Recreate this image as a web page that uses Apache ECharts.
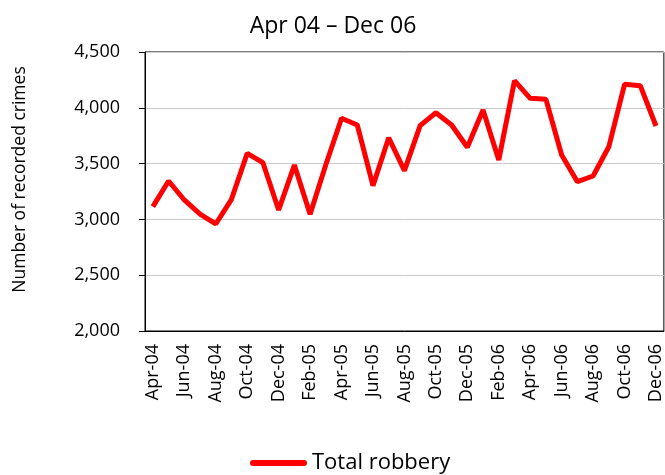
<!DOCTYPE html>
<html>
<head>
<meta charset="utf-8">
<script src="https://cdn.jsdelivr.net/npm/echarts@6/dist/echarts.min.js"></script>
<style>
  html, body { margin: 0; padding: 0; background: #fff; }
  #chart { width: 665px; height: 475px; }
</style>
</head>
<body>
<div id="chart"></div>
<script>
var months = ['Apr-04', 'May-04', 'Jun-04', 'Jul-04', 'Aug-04', 'Sep-04', 'Oct-04', 'Nov-04', 'Dec-04',
    'Jan-05', 'Feb-05', 'Mar-05', 'Apr-05', 'May-05', 'Jun-05', 'Jul-05', 'Aug-05', 'Sep-05', 'Oct-05', 'Nov-05', 'Dec-05',
    'Jan-06', 'Feb-06', 'Mar-06', 'Apr-06', 'May-06', 'Jun-06', 'Jul-06', 'Aug-06', 'Sep-06', 'Oct-06', 'Nov-06', 'Dec-06'];
var robbery = [3114, 3344, 3174, 3048, 2959, 3180, 3592, 3508, 3084,
    3487, 3046, 3490, 3906, 3846, 3302, 3732, 3437, 3840, 3956, 3846, 3646,
    3980, 3532, 4243, 4085, 4076, 3577, 3338, 3389, 3651, 4210, 4198, 3837];

var font = 'Open Sans';
var chart = echarts.init(document.getElementById('chart'));

var option = {
    backgroundColor: '#fff',
    animation: false,
    title: {
        text: 'Apr 04 \u2013 Dec 06',
        left: 328,
        textAlign: 'center',
        top: 10,
        textStyle: { fontFamily: font, fontSize: 23, fontWeight: 'normal', color: '#000' }
    },
    grid: {
        left: 145,
        right: 1,
        top: 52,
        bottom: 144,
        show: true,
        borderColor: '#000',
        borderWidth: 1
    },
    legend: {
        top: 447,
        left: 245,
        itemWidth: 57,
        itemHeight: 6,
        itemGap: 5,
        icon: 'path://M3,0 L54,0 A3,3 0 0 1 54,6 L3,6 A3,3 0 0 1 3,0 Z',
        data: ['Total robbery'],
        textStyle: { fontFamily: font, fontSize: 22, color: '#000' }
    },
    xAxis: {
        type: 'category',
        data: months,
        boundaryGap: true,
        axisLine: { lineStyle: { color: '#000' } },
        axisTick: { interval: 1, length: 6, lineStyle: { color: '#777' } },
        axisLabel: {
            interval: 1,
            rotate: 90,
            margin: 13,
            fontFamily: font,
            fontSize: 18,
            color: '#000'
        }
    },
    yAxis: {
        type: 'value',
        min: 2000,
        max: 4500,
        interval: 500,
        name: 'Number of recorded crimes',
        nameLocation: 'middle',
        nameGap: 116,
        nameTextStyle: { fontFamily: font, fontSize: 17.5, color: '#000', padding: [0, 0, 0, 24] },
        axisLine: { show: true, lineStyle: { color: '#000' } },
        axisTick: { show: true, length: 6, lineStyle: { color: '#000' } },
        splitLine: { lineStyle: { color: '#cccccc' } },
        axisLabel: {
            margin: 25,
            fontFamily: font,
            fontSize: 18,
            color: '#000',
            formatter: function (v) { return v.toLocaleString('en-US'); }
        }
    },
    series: [
        {
            name: 'Total robbery',
            type: 'line',
            data: robbery,
            showSymbol: false,
            symbol: 'none',
            itemStyle: { color: '#ff0000' },
            lineStyle: { color: '#ff0000', width: 5 }
        }
    ]
};
chart.setOption(option);
</script>
</body>
</html>
